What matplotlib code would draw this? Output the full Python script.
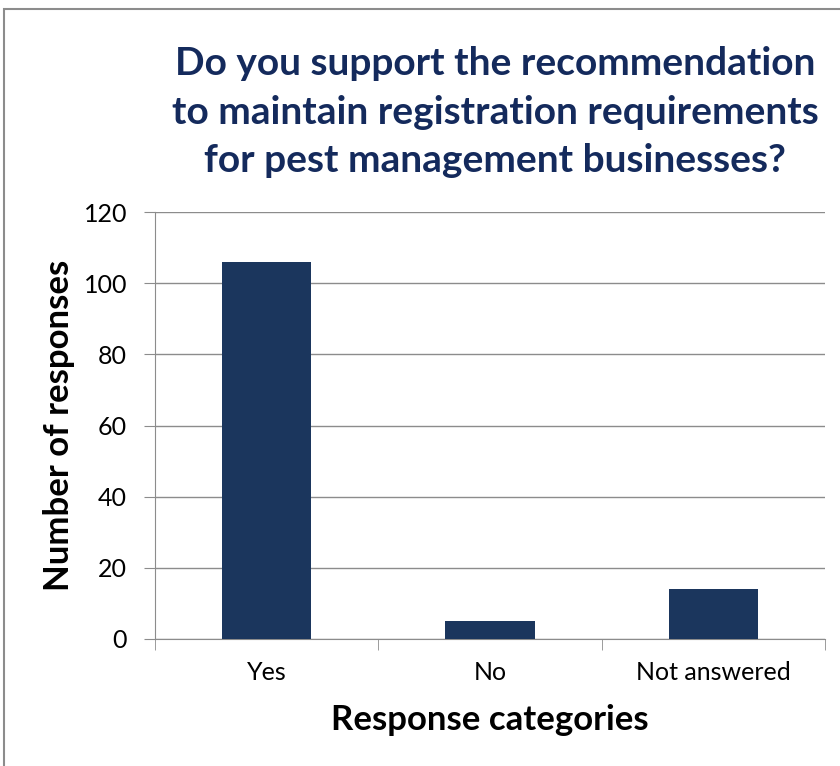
import matplotlib.pyplot as plt
from matplotlib.patches import Rectangle

# dados do gráfico
categorias = ['Yes', 'No', 'Not answered']
respostas = [106, 5, 14]
ticks_y = [0, 20, 40, 60, 80, 100, 120]

titulo = ('Do you support the recommendation\n'
          'to maintain registration requirements\n'
          'for pest management businesses?')

cor_barra = '#1b365d'
cor_titulo = '#142a5c'
plt.rcParams['font.family'] = ['Lato', 'DejaVu Sans']

fig = plt.figure(figsize=(8.4, 7.66), dpi=100)
ax = fig.add_axes([155 / 840, 1 - 639 / 766, 670 / 840, 427 / 766])

# moldura em volta da figura (cortada à direita e embaixo)
fig.patches.append(Rectangle((4 / 840, -0.1), 1.2, 1 - 9 / 766 + 0.1,
                             transform=fig.transFigure, fill=False,
                             edgecolor='#8c8c8c', linewidth=1.5))

x = range(len(categorias))
ax.bar(x, respostas, width=0.4, color=cor_barra, zorder=3)

ax.set_xlim(-0.5, len(categorias) - 0.5)
ax.set_ylim(0, 120)
ax.set_yticks(ticks_y)
ax.yaxis.grid(True, color='#8c8c8c', linewidth=1)
ax.set_axisbelow(True)

ax.set_xticks(x)
ax.set_xticklabels(categorias, fontsize=18)
ax.tick_params(axis='x', length=0, pad=16)
# pequenos traços nas divisas das categorias
ax.set_xticks([-0.5, 0.5, 1.5, 2.5], minor=True)
ax.tick_params(axis='x', which='minor', length=8, color='#8c8c8c')
ax.tick_params(axis='y', length=8, color='#8c8c8c', labelsize=18, pad=12)

for lado in ['top', 'right']:
    ax.spines[lado].set_visible(False)
ax.spines['left'].set_color('#8c8c8c')
ax.spines['bottom'].set_color('#8c8c8c')

ax.set_ylabel('Number of responses', fontsize=25, fontweight='bold', labelpad=6)
ax.set_xlabel('Response categories', fontsize=25, fontweight='bold', labelpad=14)

fig.text(495 / 840, 1 - 112 / 766, titulo, ha='center', va='center',
         fontsize=28, fontweight='bold', color=cor_titulo, linespacing=1.45)

fig.savefig('out.png', dpi=100)
